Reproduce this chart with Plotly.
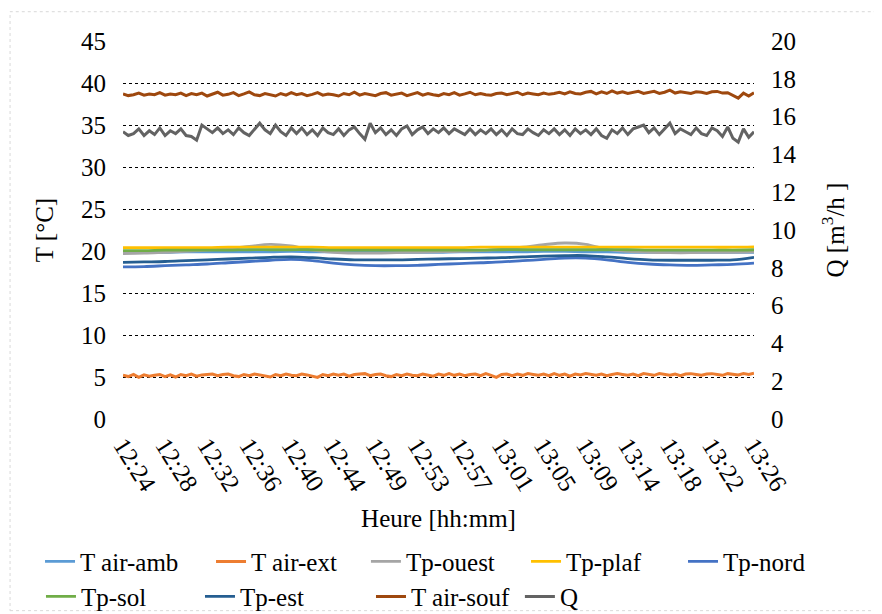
import plotly.graph_objects as go

# ---- data ----
tick_labels = ["12:24", "12:28", "12:32", "12:36", "12:40", "12:44", "12:49", "12:53",
               "12:57", "13:01", "13:05", "13:09", "13:14", "13:18", "13:22", "13:26"]
samples_per_label = 8
n_samples = 121
sample_idx = list(range(n_samples))
smooth_idx = list(range(0, n_samples, 4))

t_air_souf = [
    38.7, 38.5, 38.6, 38.8, 38.55, 38.7, 38.6, 38.85, 38.55, 38.7,
    38.6, 38.8, 38.5, 38.75, 38.6, 38.8, 38.45, 38.7, 38.9, 38.55,
    38.65, 38.85, 38.5, 38.7, 38.95, 38.6, 38.5, 38.75, 38.6, 38.45,
    38.75, 38.55, 38.85, 38.6, 38.75, 38.5, 38.65, 38.85, 38.55, 38.7,
    38.6, 38.45, 38.75, 38.6, 38.9, 38.55, 38.75, 38.6, 38.5, 38.75,
    38.85, 38.55, 38.65, 38.8, 38.5, 38.65, 38.85, 38.55, 38.75, 38.6,
    38.5, 38.75, 38.6, 38.85, 38.55, 38.7, 38.9, 38.6, 38.75, 38.6,
    38.55, 38.75, 38.8, 38.6, 38.75, 38.9, 38.6, 38.8, 38.7, 38.6,
    38.8, 38.65, 38.75, 38.9, 38.7, 38.95, 38.75, 38.7, 38.9, 39.0,
    38.7, 38.95, 38.75, 39.05, 38.8, 38.95, 38.75, 38.9, 39.0, 38.75,
    38.9, 39.0, 38.75, 38.9, 39.15, 38.8, 38.95, 38.85, 38.75, 38.95,
    38.9, 38.75, 38.95, 39.0, 38.8, 38.85, 38.55, 38.2, 38.8, 38.45, 38.85]

q_flow = [
    15.2, 15.0, 15.1, 15.35, 15.0, 15.25, 15.05, 15.4, 15.0, 15.25,
    15.1, 15.35, 15.0, 14.95, 14.75, 15.55, 15.35, 15.15, 15.4, 15.1,
    15.3, 15.05, 15.4, 15.15, 15.0, 15.3, 15.65, 15.3, 15.1, 15.55,
    15.2, 15.0, 15.4, 15.1, 15.4, 15.05, 15.3, 15.0, 15.4, 15.15,
    15.05, 15.35, 15.0, 15.3, 15.45, 15.1, 14.8, 15.65, 15.15, 15.4,
    15.05, 15.3, 15.0, 15.35, 15.5, 15.05, 15.3, 15.45, 15.1, 15.35,
    15.15, 15.4, 15.1, 15.35, 15.2, 15.05, 15.35, 15.05, 15.3, 15.1,
    15.35, 15.05, 15.3, 15.0, 15.35, 15.1, 15.05, 15.35, 15.15, 15.0,
    15.3, 15.1, 15.35, 15.05, 15.3, 15.0, 15.35, 15.1, 15.3, 15.05,
    15.35, 15.0, 14.85, 15.3, 15.1, 15.4, 15.05, 15.35, 15.45, 15.55,
    15.15, 15.4, 15.05, 15.35, 15.65, 15.1, 15.35, 15.2, 15.05, 15.4,
    15.1, 15.0, 15.4, 15.25, 14.95, 15.45, 14.85, 14.65, 15.35, 14.9, 15.2]

t_air_ext = [
    5.2, 5.05, 5.3, 4.95, 5.25, 5.1, 5.2, 5.3, 5.05, 5.25,
    5.0, 5.3, 5.15, 5.35, 5.1, 5.25, 5.3, 5.35, 5.15, 5.3,
    5.35, 5.15, 5.05, 5.3, 5.15, 5.35, 5.25, 5.15, 5.0, 5.3,
    5.15, 5.35, 5.2, 5.15, 5.35, 5.25, 5.1, 4.95, 5.3, 5.15,
    5.35, 5.2, 5.35, 5.1, 5.3, 5.35, 5.4, 5.15, 5.3, 5.35,
    5.15, 5.05, 5.3, 5.15, 5.35, 5.2, 5.15, 5.35, 5.25, 5.1,
    5.35, 5.2, 5.4, 5.2, 5.35, 5.15, 5.3, 5.35, 5.15, 5.4,
    5.2, 4.95, 5.3, 5.35, 5.15, 5.35, 5.2, 5.4, 5.3, 5.2,
    5.35, 5.15, 5.4, 5.2, 5.35, 5.1, 5.35, 5.25, 5.4, 5.3,
    5.2, 5.35, 5.15, 5.3, 5.4, 5.3, 5.2, 5.35, 5.15, 5.4,
    5.3, 5.2, 5.4, 5.3, 5.2, 5.35, 5.15, 5.35, 5.4, 5.3,
    5.2, 5.35, 5.4, 5.3, 5.2, 5.4, 5.3, 5.25, 5.4, 5.3, 5.45]

t_air_amb = [19.85, 19.85, 19.85, 19.9, 19.9, 19.9, 19.9, 19.9, 19.95, 19.9, 19.9,
             19.85, 19.85, 19.85, 19.85, 19.85, 19.9, 19.9, 19.9, 19.9, 19.95, 19.95,
             19.9, 19.9, 19.85, 19.85, 19.85, 19.85, 19.85, 19.85, 19.85]
tp_ouest = [19.7, 19.75, 19.85, 19.95, 20.1, 20.3, 20.55, 20.8, 20.6, 20.1, 19.85,
            19.75, 19.75, 19.8, 19.85, 19.9, 19.95, 20.05, 20.2, 20.45, 20.75, 20.95,
            20.8, 20.2, 19.95, 19.85, 19.8, 19.8, 19.85, 19.85, 19.9]
tp_plaf = [20.4, 20.4, 20.4, 20.4, 20.4, 20.45, 20.45, 20.45, 20.45, 20.45, 20.4,
           20.4, 20.4, 20.4, 20.4, 20.4, 20.4, 20.45, 20.45, 20.45, 20.45, 20.45,
           20.45, 20.45, 20.45, 20.45, 20.45, 20.45, 20.45, 20.45, 20.5]
tp_nord = [18.1, 18.15, 18.25, 18.35, 18.45, 18.6, 18.75, 18.9, 19.0, 18.85, 18.55,
           18.35, 18.25, 18.25, 18.3, 18.4, 18.5, 18.6, 18.7, 18.85, 19.0, 19.15,
           19.15, 18.95, 18.65, 18.45, 18.35, 18.3, 18.35, 18.4, 18.55]
tp_sol = [20.05, 20.05, 20.1, 20.1, 20.1, 20.1, 20.15, 20.15, 20.15, 20.15, 20.1,
          20.1, 20.1, 20.1, 20.1, 20.1, 20.1, 20.1, 20.15, 20.15, 20.15, 20.15,
          20.15, 20.15, 20.15, 20.1, 20.1, 20.1, 20.1, 20.1, 20.15]
tp_est = [18.65, 18.7, 18.75, 18.85, 18.95, 19.05, 19.15, 19.25, 19.3, 19.2, 19.05,
          18.95, 18.95, 18.95, 19.0, 19.05, 19.1, 19.15, 19.2, 19.3, 19.4, 19.45,
          19.45, 19.3, 19.1, 18.95, 18.9, 18.9, 18.9, 18.95, 19.25]

tick_positions = list(range(0, n_samples, samples_per_label))

FONT = "Liberation Serif"
FS = 25

series = [
    ("T air-amb", smooth_idx, t_air_amb, "#5B9BD5", "y"),
    ("T air-ext", sample_idx, t_air_ext, "#ED7D31", "y"),
    ("Tp-ouest", smooth_idx, tp_ouest, "#A5A5A5", "y"),
    ("Tp-plaf", smooth_idx, tp_plaf, "#FFC000", "y"),
    ("Tp-nord", smooth_idx, tp_nord, "#4472C4", "y"),
    ("Tp-sol", smooth_idx, tp_sol, "#70AD47", "y"),
    ("Tp-est", smooth_idx, tp_est, "#255E91", "y"),
    ("T air-souf", sample_idx, t_air_souf, "#9E480E", "y"),
    ("Q", sample_idx, q_flow, "#636363", "y2"),
]

# legend entry positions (paper coords), Excel-like 2-row layout
legend_x = [-0.1315, 0.1395, 0.385, 0.6387, 0.8875, -0.130, 0.122, 0.393, 0.629]
legend_y = [-0.3775] * 5 + [-0.470] * 4

fig = go.Figure()
legend_layouts = {}
for i, (name, xs, ys, color, yax) in enumerate(series):
    smooth = xs is smooth_idx
    lg = "legend" if i == 0 else f"legend{i + 1}"
    fig.add_trace(go.Scatter(
        x=xs, y=ys, name=name, mode="lines", yaxis=yax, legend=lg,
        line=dict(color=color, width=2.8 if smooth else 3,
                  shape="spline" if smooth else "linear"),
    ))
    legend_layouts[lg] = dict(
        x=legend_x[i], y=legend_y[i], xref="paper", yref="paper",
        xanchor="left", yanchor="middle", orientation="v",
        bgcolor="rgba(0,0,0,0)", itemwidth=30,
        font=dict(family=FONT, size=FS, color="black"),
    )

tickfont = dict(family=FONT, size=FS, color="black")
fig.update_layout(
    width=874, height=606,
    margin=dict(l=115, r=128, t=33, b=195, pad=0, autoexpand=False),
    paper_bgcolor="white", plot_bgcolor="white",
    font=dict(family=FONT, size=FS, color="black"),
    showlegend=True,
    xaxis=dict(
        range=[0, n_samples - 1], tickmode="array", tickvals=tick_positions,
        ticktext=tick_labels, tickangle=58, showgrid=False, zeroline=False,
        showline=False, ticks="", automargin=False, tickfont=tickfont,
        ticklabelstandoff=6,
        title=dict(text="Heure [hh:mm]", standoff=14, font=tickfont),
    ),
    yaxis=dict(
        range=[0, 45], dtick=5, showgrid=True, gridcolor="black", gridwidth=1,
        griddash="3px,3px", zeroline=False, showline=False, ticks="",
        ticklabelstandoff=16, automargin=False, tickfont=tickfont,
        title=dict(text="T [°C]", standoff=20, font=tickfont),
    ),
    yaxis2=dict(
        range=[0, 20], dtick=2, overlaying="y", side="right", showgrid=False,
        zeroline=False, showline=False, ticks="", ticklabelstandoff=16,
        automargin=False, tickfont=tickfont,
        title=dict(text="Q [m<sup>3</sup>/h ]", standoff=30, font=tickfont),
    ),
    shapes=[dict(type="rect", xref="paper", yref="paper", x0=-0.179, x1=1.198,
                 y0=-0.507, y1=1.0775, line=dict(color="#D9D9D9", width=1, dash="dot"),
                 layer="below")],
    **legend_layouts,
)

fig.write_html("out.html")
